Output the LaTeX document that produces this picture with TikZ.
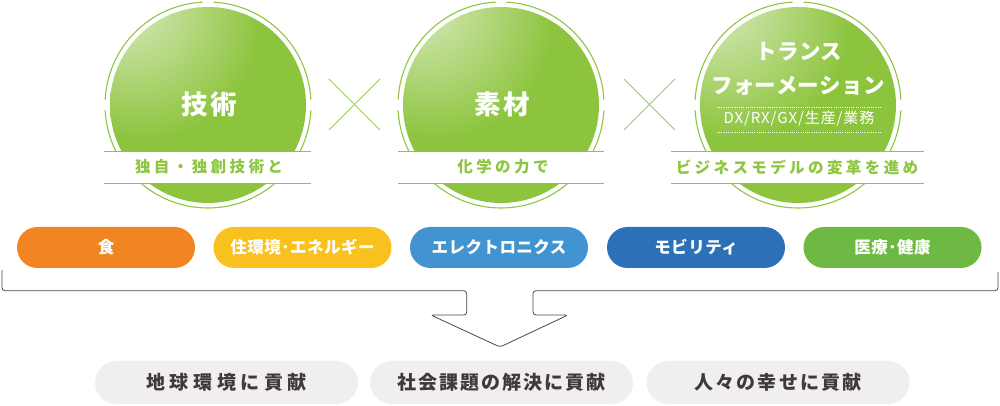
\documentclass[tikz,border=0pt]{standalone}
\usepackage{fontspec}
\newfontfamily\jp{Noto Sans CJK JP}
\definecolor{ballg}{HTML}{8CC43D}
\definecolor{hlg}{HTML}{CFE5AC}
\definecolor{balld}{HTML}{5E9C2E}
\definecolor{ringg}{HTML}{8DC63F}
\definecolor{xg}{HTML}{9CCB5F}
\definecolor{cfood}{HTML}{F08522}
\definecolor{chome}{HTML}{F9C11E}
\definecolor{celec}{HTML}{4294D0}
\definecolor{cmob}{HTML}{2C70B7}
\definecolor{cmed}{HTML}{6DB944}
\definecolor{pillgray}{HTML}{F1EFED}
\definecolor{txtgray}{HTML}{3D3A39}
\definecolor{linegray}{HTML}{4A4646}
\pgfdeclareradialshading{greenball}{\pgfpoint{-22bp}{28bp}}{color(0bp)=(hlg); color(5bp)=(hlg); color(30bp)=(ballg); color(62bp)=(ballg); color(90bp)=(balld); color(120bp)=(balld)}
\usetikzlibrary{calc}
\tikzset{
  ringline/.style={ringg, line width=1.1pt},
  bandline/.style={ringg, line width=0.9pt},
  xline/.style={xg, line width=0.9pt},
  titletext/.style={text=white, inner sep=0, font=\jp\bfseries\fontsize{26.5}{30}\selectfont\addfontfeature{LetterSpace=10}},
  trtext/.style={text=white, inner sep=0, font=\jp\bfseries\fontsize{21.5}{26}\selectfont\addfontfeature{LetterSpace=2}},
  dxtext/.style={text=white, inner sep=0, font=\jp\fontsize{15}{18}\selectfont\addfontfeature{LetterSpace=6}},
  bandtext/.style={text=ringg, inner sep=0, font=\jp\bfseries\fontsize{15.5}{18}\selectfont\addfontfeature{LetterSpace=22}},
  pill/.style={minimum width=178, minimum height=41, rounded corners=20.5, inner sep=0, text=white, font=\jp\bfseries\fontsize{16.5}{19}\selectfont\addfontfeature{LetterSpace=3}},
  goal/.style={fill=pillgray, minimum width=263, minimum height=43, rounded corners=21.5, inner sep=0, text=txtgray, font=\jp\bfseries\fontsize{19}{22}\selectfont\addfontfeature{LetterSpace=11}},
  bracket/.style={linegray, line width=0.8pt, rounded corners=3},
}
\begin{document}
\begin{tikzpicture}[x=1pt,y=1pt]
\useasboundingbox (0,0) rectangle (1000,406);
\coordinate (c1) at (208,301);
\coordinate (c2) at (501,301);
\coordinate (c3) at (798,301);
% rings and balls
\foreach \c in {c1,c2,c3}{
  \draw[ringline] (\c) ++(3:103) arc[start angle=3, end angle=87, radius=103];
  \draw[ringline] (\c) ++(93:103) arc[start angle=93, end angle=177, radius=103];
  \draw[ringline] (\c) ++(183:103) arc[start angle=183, end angle=357, radius=103];
  \shade[shading=greenball] (\c) circle[radius=98];
}
% bands
\coordinate (b1a) at (104,255); \coordinate (b1b) at (311,223);
\coordinate (b2a) at (398,255); \coordinate (b2b) at (604,223);
\coordinate (b3a) at (671,255); \coordinate (b3b) at (924,223);
\foreach \a/\b in {b1a/b1b,b2a/b2b,b3a/b3b}{
  \fill[white] (\a) rectangle (\b);
  \draw[bandline] (\a) -- (\a -| \b);
  \draw[bandline] (\a |- \b) -- (\b);
}
% titles
\node[titletext] (t1) at (209,302) {技術};
\node[titletext] (t2) at (502,302) {素材};
\node[trtext] (t3a) at (799,354) {トランス};
\node[trtext] (t3b) at (798,320) {フォーメーション};
\coordinate (d1a) at (717,299); \coordinate (d1b) at (880,299);
\coordinate (d2a) at (717,274); \coordinate (d2b) at (880,274);
\draw[white, line width=0.5pt, dash pattern=on 0.8pt off 1.4pt] (d1a) -- (d1b);
\draw[white, line width=0.5pt, dash pattern=on 0.8pt off 1.4pt] (d2a) -- (d2b);
\node[dxtext] (t3c) at (799,287) {DX/RX/GX/生産/業務};
% band texts
\node[bandtext] (s1) at (209,239) {独自・独創技術と};
\node[bandtext] (s2) at (503,239) {化学の力で};
\node[bandtext] (s3) at (797,239) {ビジネスモデルの変革を進め};
% cross marks
\coordinate (xa1) at (329,327); \coordinate (xa2) at (380,276);
\coordinate (xa3) at (329,276); \coordinate (xa4) at (380,327);
\coordinate (xb1) at (624,327); \coordinate (xb2) at (675,276);
\coordinate (xb3) at (624,276); \coordinate (xb4) at (675,327);
\draw[xline] (xa1) -- (xa2); \draw[xline] (xa3) -- (xa4);
\draw[xline] (xb1) -- (xb2); \draw[xline] (xb3) -- (xb4);
% field pills
\node[pill, fill=cfood] (p1) at (106,158.5) {食};
\node[pill, fill=chome] (p2) at (302.5,158.5) {住環境･エネルギー};
\node[pill, fill=celec] (p3) at (499,158.5) {エレクトロニクス};
\node[pill, fill=cmob] (p4) at (696,158.5) {モビリティ};
\node[pill, fill=cmed] (p5) at (892.5,158.5) {医療･健康};
% bracket with arrow
\coordinate (bL) at (2,136);
\coordinate (bLc) at (2,115.3);
\coordinate (aL1) at (466.7,115.3);
\coordinate (aL2) at (466.7,91);
\coordinate (aL3) at (430.7,91);
\coordinate (tip) at (500,59);
\coordinate (aR3) at (568,91);
\coordinate (aR2) at (533,91);
\coordinate (aR1) at (533,115.3);
\coordinate (bRc) at (998,115.3);
\coordinate (bR) at (998,134);
\draw[bracket] (bL) -- (bLc) -- (aL1) -- (aL2) -- (aL3) -- (tip) -- (aR3) -- (aR2) -- (aR1) -- (bRc) -- (bR);
% goals
\node[goal, font=\jp\bfseries\fontsize{19}{22}\selectfont\addfontfeature{LetterSpace=24}] (g1) at (226.5,23.5) {地球環境に貢献};
\node[goal] (g2) at (501.5,23.5) {社会課題の解決に貢献};
\node[goal] (g3) at (778,23.5) {人々の幸せに貢献};
\end{tikzpicture}
\end{document}
